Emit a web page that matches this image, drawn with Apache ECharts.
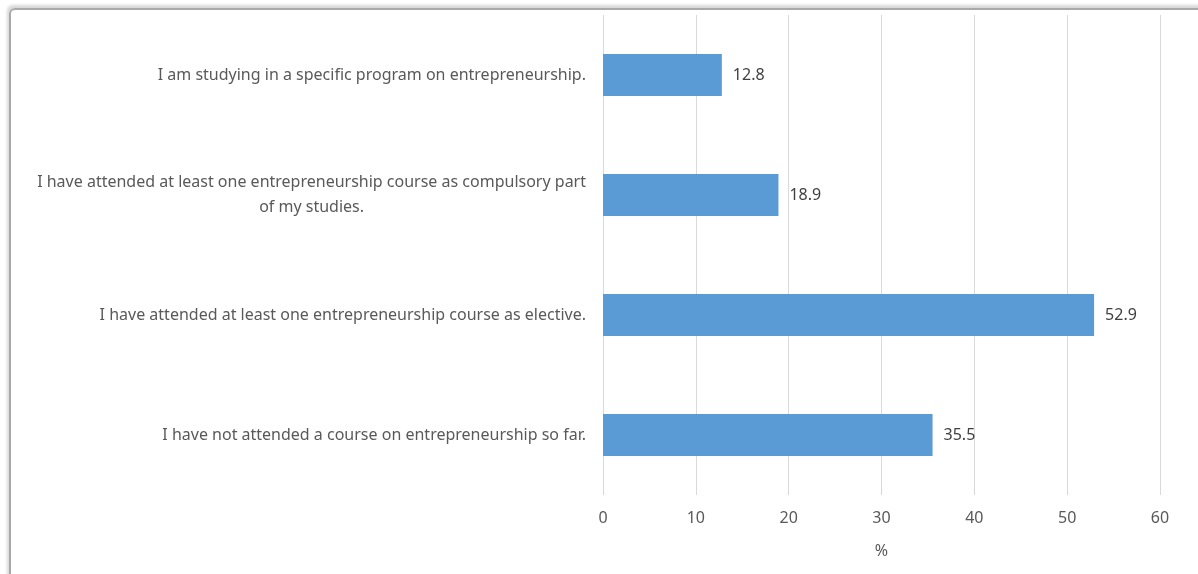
<!DOCTYPE html>
<html>
<head>
<meta charset="utf-8">
<script src="https://cdn.jsdelivr.net/npm/echarts@6/dist/echarts.min.js"></script>
<style>
html,body{margin:0;padding:0;background:#fff;overflow:hidden;}
#frame{position:absolute;left:9px;top:8px;width:1200px;height:580px;border:2px solid #a9a9a9;border-radius:6px;box-shadow:-2px -3px 3px #d8d8d8;box-sizing:border-box;}
#chart{position:absolute;left:0;top:0;width:1198px;height:574px;}
</style>
</head>
<body>
<div id="frame"></div>
<div id="chart"></div>
<script>
var categories = [
  "I have not attended a course on entrepreneurship so far.",
  "I have attended at least one entrepreneurship course as elective.",
  "I have attended at least one entrepreneurship course as compulsory part\nof my studies.",
  "I am studying in a specific program on entrepreneurship."
];
var values = [35.5, 52.9, 18.9, 12.8];
var xTicks = [0, 10, 20, 30, 40, 50, 60];

var FONT = 'Noto Sans';
var FS = 16;
var ctx = document.createElement('canvas').getContext('2d');
ctx.font = FS + 'px "' + FONT + '"';
var maxW = 0;
categories.forEach(function (c) {
  c.split('\n').forEach(function (l) { maxW = Math.max(maxW, ctx.measureText(l).width); });
});

var chart = echarts.init(document.getElementById('chart'), null, {renderer: 'canvas'});
chart.setOption({
  animation: false,
  grid: {left: 603, right: 38, top: 15, bottom: 79, containLabel: false},
  xAxis: {
    type: 'value', min: xTicks[0], max: xTicks[xTicks.length - 1], interval: 10,
    name: '%', nameLocation: 'middle', nameGap: 48,
    nameTextStyle: {color: '#595959', fontSize: FS, fontFamily: FONT},
    axisLine: {show: false}, axisTick: {show: false},
    axisLabel: {color: '#595959', fontSize: FS, fontFamily: FONT, margin: 15},
    splitLine: {lineStyle: {color: '#d9d9d9', width: 1}}
  },
  yAxis: {
    type: 'category', data: categories,
    axisLine: {show: false}, axisTick: {show: false},
    axisLabel: {
      color: '#595959', fontSize: FS, fontFamily: FONT, margin: 17, lineHeight: 25,
      formatter: function (v) {
        if (v.indexOf('\n') < 0) return v;
        return v.split('\n').map(function (l) { return '{b|' + l + '}'; }).join('\n');
      },
      rich: {b: {width: maxW, align: 'center', color: '#595959', fontSize: FS, fontFamily: FONT, lineHeight: 25}}
    }
  },
  series: [{
    type: 'bar', data: values, barWidth: 42,
    itemStyle: {color: '#5b9bd5'},
    label: {show: true, position: 'right', distance: 11, color: '#404040', fontSize: FS, fontFamily: FONT}
  }]
});
</script>
</body>
</html>
